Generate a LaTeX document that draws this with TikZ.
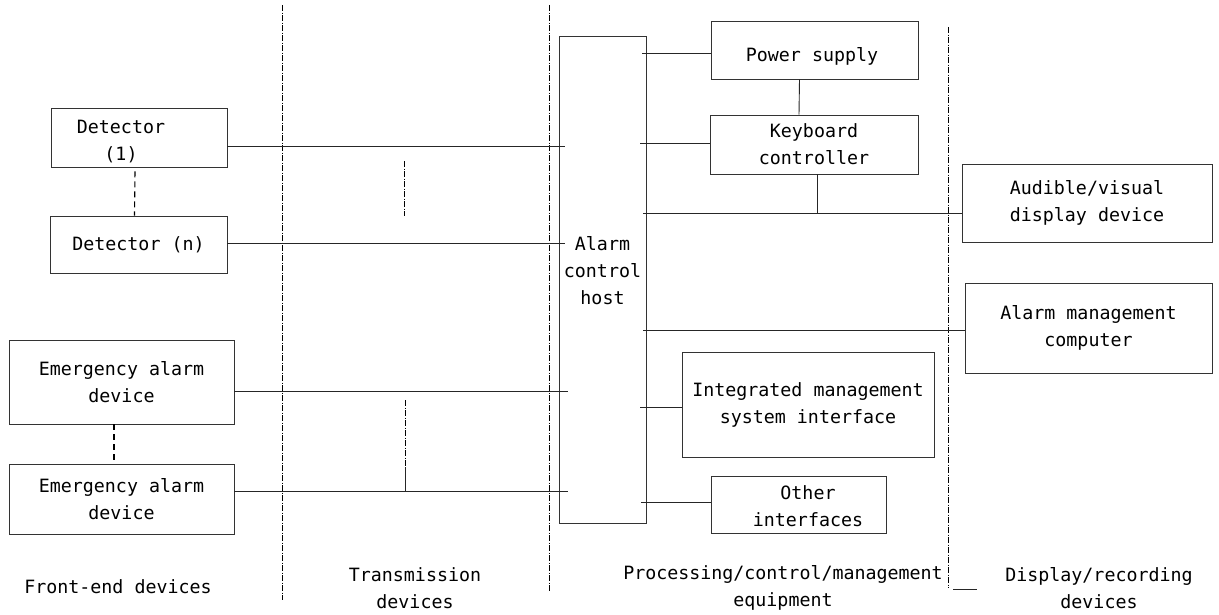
\documentclass[tikz,border=0pt]{standalone}
\usepackage{fontspec}
\setmonofont{DejaVu Sans Mono}
\begin{document}
\begin{tikzpicture}[x=1pt,y=-1pt,
  every node/.style={font=\ttfamily\fontsize{18.3}{27}\selectfont, align=center},
  box/.style={draw=black!80, line width=0.9pt, inner sep=0pt},
  wire/.style={draw=black!85, line width=0.9pt},
  linkdash/.style={draw=black, line width=1.1pt, dash pattern=on 6pt off 4pt},
  divider/.style={draw=black, line width=0.8pt, dash pattern=on 6pt off 1.5pt on 1pt off 1.5pt},
  tag/.style={inner sep=0pt}]
\useasboundingbox (0,0) rectangle (1219,614);

% zone dividers
\draw[divider] (282,5) -- (282,600);
\draw[divider] (549,5) -- (549,592);
\draw[divider] (948,27) -- (948,588);
\draw[wire] (953,589) -- (977,589);

% front-end devices
\node[box, minimum width=176pt, minimum height=59pt] (d1) at (139,137.5) {};
\node[tag] (d1lbl) at (121,141.5) {Detector\\(1)};
\node[box, minimum width=177pt, minimum height=57pt] (dn) at (138.5,244.5) {Detector (n)};
\node[box, minimum width=225pt, minimum height=84pt] (e1) at (121.5,382) {Emergency alarm\\device};
\node[box, minimum width=225pt, minimum height=70pt] (e2) at (121.5,499) {Emergency alarm\\device};

% alarm control host
\node[box, minimum width=87pt, minimum height=487pt] (host) at (602.5,279.5) {};
\node[tag] (hostlbl) at (602.5,271) {Alarm\\control\\host};

% processing equipment
\node[box, minimum width=207pt, minimum height=58pt] (ps) at (814.5,50) {};
\node[tag] (pslbl) at (812,56) {Power supply};
\node[box, minimum width=208pt, minimum height=59pt] (kb) at (814,144.5) {Keyboard\\controller};
\node[box, minimum width=252pt, minimum height=105pt] (im) at (808,404.5) {Integrated management\\system interface};
\node[box, minimum width=175pt, minimum height=57pt] (oi) at (798.5,504.5) {};
\node[tag] (oilbl) at (808,506) {Other\\interfaces};

% display / recording devices
\node[box, minimum width=250pt, minimum height=78pt] (av) at (1087,203) {Audible/visual\\display device};
\node[box, minimum width=247pt, minimum height=90pt] (am) at (1088.5,328) {Alarm management\\computer};

% row heights of the connectors
\coordinate (rD1) at (0,146);
\coordinate (rDn) at (0,243);
\coordinate (rE1) at (0,391);
\coordinate (rE2) at (0,491);
\coordinate (rPS) at (0,53);
\coordinate (rKB) at (0,143);
\coordinate (rAV) at (0,213);
\coordinate (rAM) at (0,330);
\coordinate (rIM) at (0,407);
\coordinate (rOI) at (0,502);

% front-end links into the host
\draw[wire] (d1.east |- rD1) -- ([xshift=6pt]host.west |- rD1);
\draw[wire] (dn.east |- rDn) -- ([xshift=6pt]host.west |- rDn);
\draw[wire] (e1.east |- rE1) -- ([xshift=9pt]host.west |- rE1);
\draw[wire] (e2.east |- rE2) -- ([xshift=9pt]host.west |- rE2);

% repeated devices
\draw[linkdash] ([xshift=-4pt,yshift=-4pt]d1.south) -- ([xshift=-4pt]dn.north);
\draw[linkdash] ([xshift=-7.5pt]e1.south) -- ([xshift=-7.5pt]e2.north);

% transmission channels
\coordinate (t1) at (404,161);
\coordinate (t2) at (404,216);
\coordinate (t3) at (405,400);
\coordinate (t4) at (405,467);
\draw[divider] (t1) -- (t2);
\draw[divider] (t3) -- (t4);
\draw[wire] (t4) -- (t4 |- rE2);

% host links to processing and display equipment
\draw[wire] ([xshift=-4pt]host.east |- rPS) -- (ps.west |- rPS);
\draw[wire] ([xshift=-6pt]host.east |- rKB) -- (kb.west |- rKB);
\draw[wire] ([xshift=-15pt]ps.south) -- ([xshift=-15pt]kb.north);
\draw[wire] ([xshift=-3pt]host.east |- rAV) -- (av.west |- rAV);
\draw[wire] ([xshift=3pt]kb.south) -- ([xshift=3pt]kb.south |- rAV);
\draw[wire] ([xshift=-3pt]host.east |- rAM) -- (am.west |- rAM);
\draw[wire] ([xshift=-6pt]host.east |- rIM) -- (im.west |- rIM);
\draw[wire] ([xshift=-5pt]host.east |- rOI) -- (oi.west |- rOI);

% zone captions
\node[tag] (c1) at (118,587) {Front-end devices};
\node[tag] (c2) at (415,588) {Transmission\\devices};
\node[tag] (c3) at (783,588) {Processing/control/management\\equipment};
\node[tag] (c4) at (1099,588) {Display/recording\\devices};
\end{tikzpicture}
\end{document}
